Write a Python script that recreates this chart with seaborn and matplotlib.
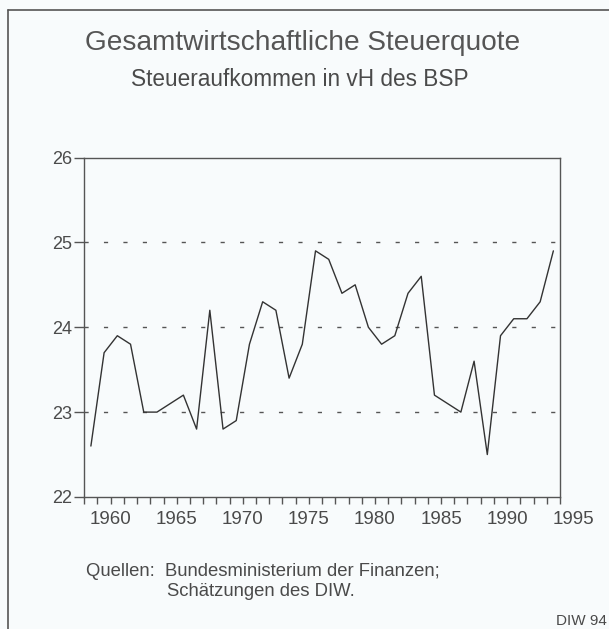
import pandas as pd
import matplotlib
matplotlib.use("Agg")
import matplotlib.pyplot as plt
import matplotlib.transforms as mtransforms
from matplotlib.lines import Line2D
import seaborn as sns

# Steuerquote: Steueraufkommen in vH des BSP
years = list(range(1959, 1995))
quote = [22.6, 23.7, 23.9, 23.8, 23.0, 23.0, 23.1, 23.2, 22.8, 24.2,
         22.8, 22.9, 23.8, 24.3, 24.2, 23.4, 23.8, 24.9, 24.8, 24.4,
         24.5, 24.0, 23.8, 23.9, 24.4, 24.6, 23.2, 23.1, 23.0, 23.6,
         22.5, 23.9, 24.1, 24.1, 24.3, 24.9]
label_years = [1960, 1965, 1970, 1975, 1980, 1985, 1990]
y_ticks = [22, 23, 24, 25, 26]
grid_levels = [23, 24, 25]

df = pd.DataFrame({"Jahr": years, "Quote": quote})
# values are drawn centred in the year interval
df["x"] = df["Jahr"] - 0.5

sns.set_style("white")
plt.rcParams['font.family'] = ['Liberation Sans', 'DejaVu Sans']

bg = "#f8fbfc"
txt = "#4a4a4a"

fig = plt.figure(figsize=(6.09, 6.29), dpi=100, facecolor=bg)
ax = fig.add_axes([0.1384, 0.2099, 0.9195 - 0.1384, 0.7496 - 0.2099])
ax.set_facecolor(bg)

for lv in grid_levels:
    ax.axhline(lv, color="#555555", lw=1.0, dashes=(3, 11), zorder=1)

sns.lineplot(data=df, x="x", y="Quote", color="#333333", lw=1.0, ax=ax, zorder=3)

ax.set_xlim(min(years) - 1, max(years))
ax.set_ylim(min(y_ticks), max(y_ticks))
ax.set_yticks(y_ticks)
ax.set_yticklabels([str(t) for t in y_ticks], fontsize=13, color=txt)

tick_years = list(range(min(years) - 1, max(years) + 1))
ax.set_xticks(tick_years)
ax.set_xticklabels([str(t) if t in label_years else "" for t in tick_years],
                   fontsize=13.5, color=txt)

ax.tick_params(axis="x", bottom=True, direction="out", length=5, width=1,
               color="#555555", pad=5)
ax.tick_params(axis="y", left=True, direction="out", length=7, width=1,
               color="#555555", pad=2)
for s in ax.spines.values():
    s.set_color("#555555")
    s.set_linewidth(1.0)
ax.set_xlabel("")
ax.set_ylabel("")

# the last label lies just past the axis end, same offset as the tick labels
trans = mtransforms.blended_transform_factory(ax.transData, ax.transAxes)
trans = trans + mtransforms.ScaledTranslation(0, -10 / 72, fig.dpi_scale_trans)
ax.text(1995, 0, "1995", transform=trans, fontsize=13.5, color=txt,
        ha="center", va="top")

fig.text(0.4975, 1 - 42.7 / 629, "Gesamtwirtschaftliche Steuerquote",
         ha="center", va="center", fontsize=20.2, color="#555555")
fig.text(0.4926, 1 - 79.6 / 629, "Steueraufkommen in vH des BSP",
         ha="center", va="center", fontsize=16.3, color=txt)

fig.text(86 / 609, 1 - 572 / 629, "Quellen:  Bundesministerium der Finanzen;",
         ha="left", va="center", fontsize=13.3, color=txt)
fig.text(167 / 609, 1 - 592 / 629, "Schätzungen des DIW.",
         ha="left", va="center", fontsize=13.3, color=txt)
fig.text(0.997, 1 - 620.7 / 629, "DIW 94", ha="right", va="center",
         fontsize=11, color=txt)

# frame of the original page
fig.add_artist(Line2D([8 / 609, 1], [1 - 10 / 629] * 2, color="#555555", lw=1.2))
fig.add_artist(Line2D([8 / 609] * 2, [0, 1 - 10 / 629], color="#555555", lw=1.2))

fig.savefig("out.png", dpi=100, facecolor=bg)
